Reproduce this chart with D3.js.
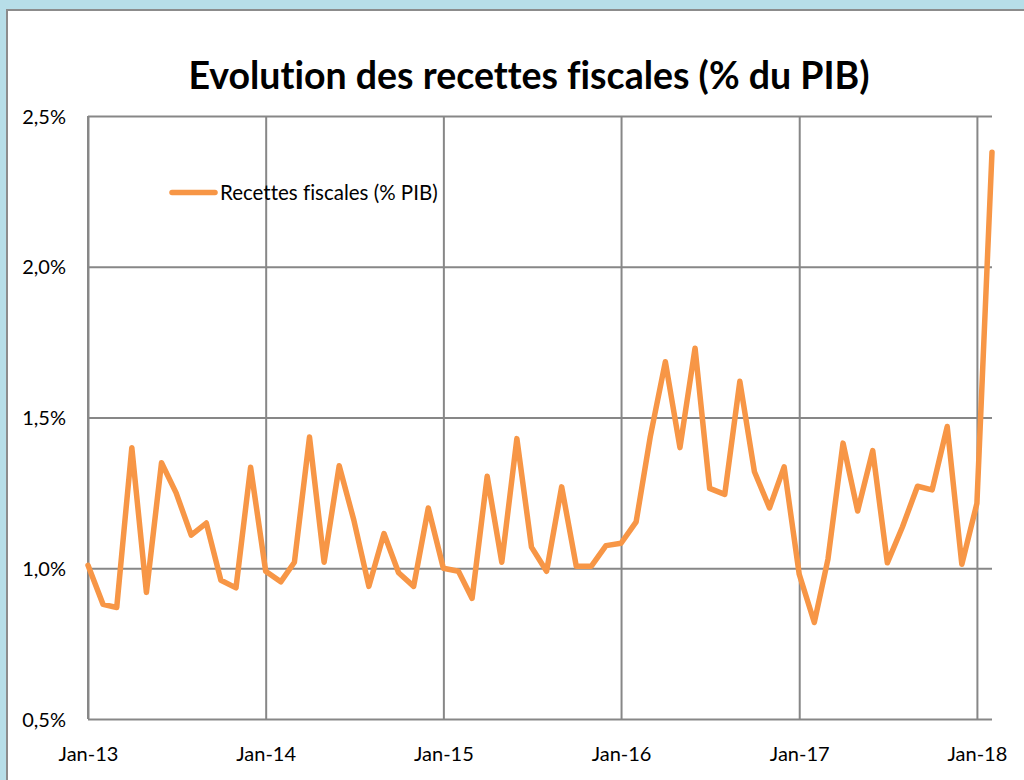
<!DOCTYPE html>
<html>
<head>
<meta charset="utf-8">
<script src="https://cdn.jsdelivr.net/npm/d3@7"></script>
<style>
  html, body { margin: 0; padding: 0; background: #b7dee8; }
  svg { display: block; }
  text { font-variant-ligatures: none; font-feature-settings: "liga" 0, "dlig" 0; }
</style>
</head>
<body>
<svg id="chart" width="1024" height="780"></svg>
<script>
// ---- data ----
const title = "Evolution des recettes fiscales (% du PIB)";
const seriesName = "Recettes fiscales (% PIB)";
const startMonth = "2013-01";
const values = [
  1.01, 0.88, 0.87, 1.40, 0.92, 1.35, 1.25, 1.11, 1.15, 0.96, 0.935, 1.335,
  0.99, 0.955, 1.02, 1.435, 1.02, 1.34, 1.16, 0.94, 1.115, 0.985, 0.94, 1.20,
  1.00, 0.99, 0.90, 1.305, 1.02, 1.43, 1.07, 0.99, 1.27, 1.007, 1.007, 1.075,
  1.083, 1.154, 1.436, 1.685, 1.40, 1.73, 1.265, 1.245, 1.62, 1.32, 1.20, 1.336,
  0.98, 0.82, 1.03, 1.415, 1.19, 1.39, 1.018, 1.137, 1.272, 1.26, 1.47, 1.013,
  1.215, 2.38
];
const yTicks = [0.5, 1.0, 1.5, 2.0, 2.5];
const xTickLabels = ["Jan-13", "Jan-14", "Jan-15", "Jan-16", "Jan-17", "Jan-18"];
const xTickYears = [2013, 2014, 2015, 2016, 2017, 2018];

// ---- build ----
const svg = d3.select("#chart");
const start = d3.timeParse("%Y-%m")(startMonth);
const dates = values.map((v, i) => d3.timeMonth.offset(start, i));
const data = values.map((v, i) => ({ date: dates[i], value: v }));

const plot = { left: 88, right: 992, top: 116, bottom: 719 };
const x = d3.scaleTime().domain([dates[0], dates[dates.length - 1]]).range([plot.left, plot.right]);
const y = d3.scaleLinear().domain([0.5, 2.5]).range([plot.bottom, plot.top]);

// panel
svg.append("rect").attr("x", 0).attr("y", 0).attr("width", 1024).attr("height", 780).attr("fill", "#b7dee8");
svg.append("rect").attr("x", 7).attr("y", 10).attr("width", 1030).attr("height", 790)
  .attr("fill", "#ffffff").attr("stroke", "#8c8c8c").attr("stroke-width", 2);

const gridColor = "#878787";
// horizontal gridlines
const yAxis = d3.axisLeft(y).tickValues(yTicks)
  .tickSize(-(plot.right - plot.left))
  .tickPadding(22)
  .tickFormat(d => d3.format(".1f")(d).replace(".", ",") + "%");
const gy = svg.append("g").attr("transform", `translate(${plot.left},0)`).call(yAxis);
gy.select(".domain").remove();
gy.selectAll(".tick line").attr("stroke", gridColor).attr("stroke-width", 2);
gy.selectAll(".tick text")
  .attr("font-family", "Lato, 'Open Sans', sans-serif")
  .attr("font-size", 20).attr("fill", "#000").attr("dy", "0.35em");

// vertical gridlines
const xTickDates = xTickYears.map(yr => new Date(yr, 0, 1));
const xAxis = d3.axisBottom(x).tickValues(xTickDates)
  .tickSize(-(plot.bottom - plot.top))
  .tickPadding(28)
  .tickFormat((d, i) => xTickLabels[i]);
const gx = svg.append("g").attr("transform", `translate(0,${plot.bottom})`).call(xAxis);
gx.select(".domain").remove();
gx.selectAll(".tick line").attr("stroke", gridColor).attr("stroke-width", 2);
gx.selectAll(".tick text")
  .attr("font-family", "Lato, 'Open Sans', sans-serif")
  .attr("font-size", 20).attr("fill", "#000");

// left axis line
svg.append("line").attr("x1", plot.left).attr("x2", plot.left)
  .attr("y1", plot.top).attr("y2", plot.bottom)
  .attr("stroke", gridColor).attr("stroke-width", 2);

// series line
const line = d3.line().x(d => x(d.date)).y(d => y(d.value));
svg.append("path").datum(data)
  .attr("fill", "none").attr("stroke", "#f79646").attr("stroke-width", 5.5)
  .attr("stroke-linejoin", "round").attr("stroke-linecap", "round")
  .attr("d", line);

// legend
svg.append("line").attr("x1", 172).attr("x2", 215).attr("y1", 192.5).attr("y2", 192.5)
  .attr("stroke", "#f79646").attr("stroke-width", 5.5).attr("stroke-linecap", "round");
svg.append("text").attr("x", 220).attr("y", 199.5)
  .attr("font-family", "Lato, 'Open Sans', sans-serif").attr("font-size", 20.5)
  .attr("fill", "#000").text(seriesName);

// title
svg.append("text").attr("x", 529).attr("y", 89).attr("text-anchor", "middle")
  .attr("font-family", "Lato, 'Open Sans', sans-serif").attr("font-weight", "bold")
  .attr("font-size", 37.5).attr("fill", "#000").text(title);
</script>
</body>
</html>
